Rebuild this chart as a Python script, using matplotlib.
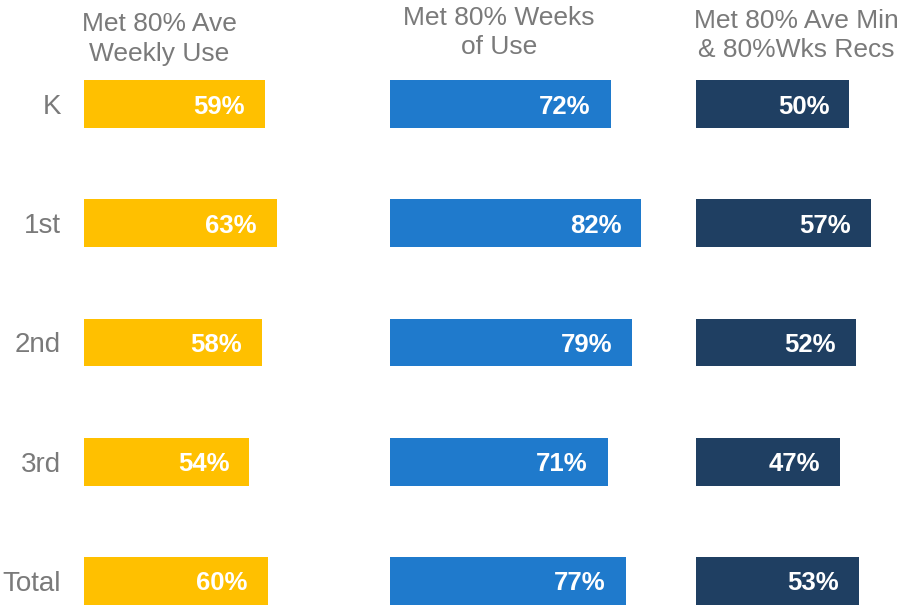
"""Three-panel horizontal bar chart: share of students meeting 80% usage targets."""

import matplotlib

matplotlib.use("Agg")
import matplotlib.pyplot as plt

plt.rcParams["font.family"] = ["Liberation Sans", "DejaVu Sans"]

GRADES = ["K", "1st", "2nd", "3rd", "Total"]
WEEKLY_USE = [59, 63, 58, 54, 60]
WEEKS_OF_USE = [72, 82, 79, 71, 77]
MIN_AND_RECS = [50, 57, 52, 47, 53]

HEADERS = [
    ("Met 80% Ave", "Weekly Use"),
    ("Met 80% Weeks", "of Use"),
    ("Met 80% Ave Min", "& 80%Wks Recs"),
]
COLORS = ["#FFC000", "#1F7ACC", "#1F3F62"]
GRAY = "#7A7A7A"

# layout in source pixels (903 x 605)
W, H = 903, 605
ORIGIN_X = 84          # left edge of first panel bars
PX_PER_UNIT = 306.2    # pixels for 100%
ROW0_Y, ROW_STEP = 104, 119.25
HEADER_POS = [(159, 31, 61), (499, 25, 54), (796, 28, 57)]


def main() -> None:
    fig = plt.figure(figsize=(W / 100, H / 100), dpi=100)
    ax = fig.add_axes([0, 0, 1, 1])
    ax.set_xlim(-ORIGIN_X / PX_PER_UNIT, (W - ORIGIN_X) / PX_PER_UNIT)
    ax.set_ylim((H - ROW0_Y) / ROW_STEP, -ROW0_Y / ROW_STEP)
    ax.axis("off")

    rows = range(len(GRADES))
    pad = 20 / PX_PER_UNIT
    for panel, values in enumerate((WEEKLY_USE, WEEKS_OF_USE, MIN_AND_RECS)):
        widths = [v / 100 for v in values]
        ax.barh(rows, widths, left=panel, height=0.4, color=COLORS[panel])
        for row, v in zip(rows, values):
            ax.text(panel + v / 100 - pad, row, f"{v}%", ha="right",
                    va="center_baseline", color="white", fontsize=18.5,
                    fontweight="bold")

    for row, grade in zip(rows, GRADES):
        ax.text(-23 / PX_PER_UNIT, row, grade, ha="right", va="center_baseline",
                color=GRAY, fontsize=20)

    for (line1, line2), (cx, y1, y2) in zip(HEADERS, HEADER_POS):
        for text, y in ((line1, y1), (line2, y2)):
            fig.text(cx / W, 1 - y / H, text, ha="center", va="baseline",
                     color=GRAY, fontsize=19)

    fig.savefig("out.png", dpi=100)
    plt.close(fig)


if __name__ == "__main__":
    main()
